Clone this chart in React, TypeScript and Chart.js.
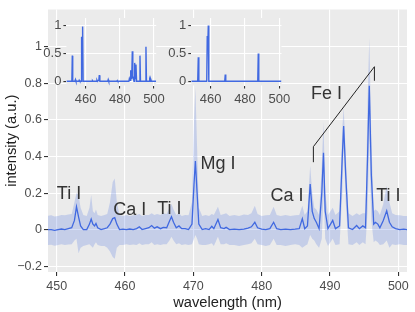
import React, { useEffect, useRef } from "react";
import { Chart, registerables } from "chart.js";
Chart.register(...registerables);

// ---- main spectrum (mean with band) ----
const wavelength = [
  448.7, 449.2, 449.7, 450.2, 450.7, 451.2, 451.7, 452.2, 452.6, 452.9, 453.2, 453.5, 453.9, 454.4, 454.8, 455.05,
  455.3, 455.55, 455.75, 456.0, 456.5, 457.0, 457.4, 457.8, 458.2, 458.5, 458.8, 459.2, 459.7, 460.2, 460.7, 461.2,
  461.7, 462.1, 462.5, 463.0, 463.5, 463.9, 464.3, 464.7, 465.2, 465.6, 466.1, 466.5, 466.8, 467.1, 467.5, 467.9,
  468.3, 468.8, 469.3, 469.8, 470.1, 470.3, 470.55, 470.8, 471.3, 471.8, 472.3, 472.7, 473.0, 473.6, 474.0, 474.5,
  474.8, 475.3, 476.0, 476.7, 477.4, 478.0, 478.5, 479.0, 479.4, 480.0, 480.6, 481.2, 481.75, 482.2, 482.8, 483.5,
  484.2, 484.9, 485.5, 485.95, 486.3, 486.7, 487.1, 487.4, 487.7, 488.0, 488.4, 488.8, 489.05, 489.3, 489.7, 490.4,
  490.8, 491.4, 491.8, 492.0, 492.3, 492.7, 493.3, 493.9, 494.3, 494.8, 495.2, 495.5, 495.75, 496.05, 496.4, 496.65,
  497.0, 497.3, 497.8, 498.3, 498.7, 499.1, 499.6, 500.2, 500.8, 501.3,
];
const meanIntensity = [
  0.0, 0.0, -0.004, 0.0, 0.003, 0.0, 0.005, 0.01, 0.05, 0.125, 0.07, 0.02, 0.0, 0.0, 0.03, 0.058,
  0.03, 0.02, 0.033, 0.01, 0.0, 0.005, 0.01, 0.03, 0.06, 0.065, 0.03, 0.0, 0.002, 0.0, 0.003, 0.0,
  0.005, 0.015, 0.0, 0.005, 0.01, 0.022, 0.008, 0.015, 0.005, 0.012, 0.01, 0.045, 0.07, 0.04, 0.01, 0.02,
  0.005, 0.005, 0.0, 0.03, 0.25, 0.375, 0.2, 0.03, 0.0, 0.005, 0.0, 0.018, 0.005, 0.055, 0.01, 0.005,
  0.012, 0.0, 0.002, 0.0, 0.003, 0.008, 0.015, 0.04, 0.01, 0.002, 0.0, 0.005, 0.04, 0.005, 0.0, 0.002,
  0.0, 0.002, 0.005, 0.06, 0.005, 0.02, 0.25, 0.1, 0.06, 0.04, 0.005, 0.2, 0.42, 0.1, 0.005, 0.05,
  0.005, 0.02, 0.4, 0.567, 0.3, 0.01, 0.0, 0.022, 0.005, 0.02, 0.01, 0.4, 0.787, 0.3, 0.03, 0.04,
  0.03, 0.01, 0.05, 0.103, 0.04, 0.015, 0.005, 0.0, 0.002, 0.0,
];
const upperBand = [
  0.075, 0.078, 0.072, 0.075, 0.08, 0.078, 0.082, 0.085, 0.15, 0.2, 0.19, 0.12, 0.08, 0.075, 0.12, 0.19,
  0.1, 0.09, 0.11, 0.08, 0.075, 0.08, 0.085, 0.15, 0.26, 0.28, 0.15, 0.08, 0.075, 0.08, 0.075, 0.078,
  0.08, 0.085, 0.075, 0.08, 0.08, 0.09, 0.08, 0.085, 0.08, 0.09, 0.085, 0.12, 0.14, 0.11, 0.08, 0.09,
  0.075, 0.08, 0.078, 0.15, 0.6, 0.78, 0.45, 0.12, 0.075, 0.08, 0.075, 0.085, 0.08, 0.125, 0.08, 0.085,
  0.09, 0.075, 0.08, 0.075, 0.082, 0.08, 0.09, 0.13, 0.085, 0.075, 0.078, 0.08, 0.125, 0.08, 0.075, 0.08,
  0.075, 0.078, 0.08, 0.13, 0.08, 0.1, 0.35, 0.2, 0.12, 0.11, 0.08, 0.35, 0.59, 0.2, 0.08, 0.12,
  0.08, 0.1, 0.55, 0.67, 0.42, 0.09, 0.075, 0.09, 0.08, 0.09, 0.09, 0.7, 1.05, 0.5, 0.1, 0.11,
  0.1, 0.08, 0.14, 0.24, 0.15, 0.09, 0.08, 0.078, 0.075, 0.075,
];
const lowerBand = [
  -0.085, -0.083, -0.088, -0.085, -0.08, -0.085, -0.082, -0.08, -0.06, -0.05, -0.13, -0.1, -0.09, -0.085, -0.08, -0.09,
  -0.1, -0.08, -0.07, -0.085, -0.09, -0.09, -0.1, -0.12, -0.15, -0.16, -0.1, -0.085, -0.085, -0.08, -0.085, -0.082,
  -0.085, -0.075, -0.085, -0.08, -0.08, -0.07, -0.085, -0.08, -0.085, -0.08, -0.08, -0.06, -0.04, -0.06, -0.08, -0.075,
  -0.085, -0.08, -0.085, -0.08, -0.05, -0.03, -0.05, -0.08, -0.085, -0.085, -0.08, -0.075, -0.09, -0.04, -0.08, -0.08,
  -0.075, -0.085, -0.085, -0.09, -0.085, -0.08, -0.075, -0.05, -0.08, -0.085, -0.09, -0.085, -0.05, -0.085, -0.085, -0.09,
  -0.085, -0.08, -0.085, -0.1, -0.09, -0.08, -0.03, -0.05, -0.06, -0.08, -0.1, -0.05, 0.2, -0.05, -0.09, -0.05,
  -0.085, -0.08, 0.2, 0.45, 0.15, -0.08, -0.085, -0.07, -0.085, -0.07, -0.08, 0.1, 0.5, 0.05, -0.07, -0.06,
  -0.07, -0.085, -0.08, -0.06, -0.1, -0.08, -0.085, -0.08, -0.085, -0.085,
];

// ---- inset spectra ----
const inset1Wavelength = [
  448.7, 451.9, 452.15, 452.4, 453.7, 454.0, 454.3, 455.9, 456.2, 456.6, 457.3, 457.6, 457.9, 458.2, 458.5, 463.7,
  464.0, 464.3, 466.3, 466.6, 466.9, 467.7, 467.97, 468.3, 472.9, 473.2, 473.5, 478.2, 478.5, 478.8, 485.3, 485.6,
  486.0, 486.35, 486.7, 487.0, 487.3, 487.6, 488.0, 488.3, 488.7, 489.0, 489.45, 489.8, 491.5, 491.8, 492.1, 495.0,
  495.3, 495.6, 497.2, 497.5, 497.8, 498.0, 498.25, 498.5, 501.3,
];
const inset1Intensity = [
  0.0, 0.0, 0.46, 0.0, 0.0, 0.03, 0.0, 0.0, 0.02, 0.0, 0.0, 0.8, 0.6, 0.98, 0.0, 0.0,
  0.012, 0.0, 0.0, 0.02, 0.0, 0.02, 0.11, 0.0, 0.0, 0.03, 0.0, 0.0, 0.015, 0.0, 0.0, 0.05,
  0.02, 0.2, 0.05, 0.1, 0.54, 0.1, 0.05, 0.0, 0.33, 0.05, 0.3, 0.0, 0.0, 0.46, 0.0, 0.0,
  0.62, 0.0, 0.0, 0.03, 0.0, 0.0, 0.035, 0.0, 0.0,
];
const inset2Wavelength = [
  448.7, 452.45, 452.77, 453.1, 457.7, 458.0, 458.3, 458.6, 458.9, 468.2, 468.5, 468.8, 487.45, 487.75, 488.05, 501.3,
];
const inset2Intensity = [0.0, 0.0, 0.43, 0.0, 0.0, 0.81, 0.6, 1.0, 0.0, 0.0, 0.12, 0.0, 0.0, 0.5, 0.0, 0.0];

// ---- ticks ----
const xTicks = [450, 460, 470, 480, 490, 500];
const xTickLabels = ["450", "460", "470", "480", "490", "500"];
const yTicks = [-0.2, 0, 0.2, 0.4, 0.6, 0.8, 1];
const yTickLabels = ["\u22120.2", "0", "0.2", "0.4", "0.6", "0.8", "1"];
const insetXTicks = [460, 480, 500];
const insetXTickLabels = ["460", "480", "500"];
const insetYTicks = [0, 0.5, 1];
const insetYTickLabels = ["0", "0.5", "1"];

// ---- annotations ----
const labelTexts = ["Ti I", "Ca I", "Ti I", "Mg I", "Ca I", "Ti I", "Fe I"];
const labelX = [451.8, 460.7, 466.5, 473.6, 483.7, 498.55, 489.5];
const labelY = [0.195, 0.108, 0.113, 0.357, 0.184, 0.184, 0.74];
const bracketX = [487.57, 487.57, 496.5, 496.5];
const bracketY = [0.369, 0.454, 0.892, 0.815];

const FONT = "'Liberation Sans', Arial, sans-serif";
const LINE_BLUE = "#4169E1";
const PANEL = "#EBEBEB";

const panelBg = {
  id: "panelBg",
  beforeDraw(chart: any) {
    const { ctx, chartArea: a } = chart;
    ctx.save();
    ctx.fillStyle = PANEL;
    ctx.fillRect(a.left, a.top, a.right - a.left, a.bottom - a.top);
    ctx.restore();
  },
};

const annotations = {
  id: "annotations",
  afterDatasetsDraw(chart: any) {
    const { ctx } = chart;
    const xs = chart.scales.x;
    const ys = chart.scales.y;
    ctx.save();
    ctx.strokeStyle = "#222";
    ctx.lineWidth = 1;
    ctx.beginPath();
    bracketX.forEach((bx, i) => {
      const px = xs.getPixelForValue(bx);
      const py = ys.getPixelForValue(bracketY[i]);
      if (i === 0) ctx.moveTo(px, py);
      else ctx.lineTo(px, py);
    });
    ctx.stroke();
    ctx.fillStyle = "#333";
    ctx.font = `18px ${FONT}`;
    ctx.textAlign = "center";
    ctx.textBaseline = "middle";
    labelTexts.forEach((t, i) => {
      ctx.fillText(t, xs.getPixelForValue(labelX[i]), ys.getPixelForValue(labelY[i]));
    });
    ctx.restore();
  },
};

function setTicks(values: number[]) {
  return (s: any) => {
    s.ticks = values.map((v) => ({ value: v }));
  };
}

function mainConfig(): any {
  return {
    type: "line",
    data: {
      datasets: [
        {
          data: wavelength.map((x, i) => ({ x, y: upperBand[i] })),
          borderWidth: 0,
          borderColor: "transparent",
          pointRadius: 0,
          fill: "+1",
          backgroundColor: "rgba(65,105,225,0.22)",
        },
        {
          data: wavelength.map((x, i) => ({ x, y: lowerBand[i] })),
          borderWidth: 0,
          borderColor: "transparent",
          pointRadius: 0,
          fill: false,
        },
        {
          data: wavelength.map((x, i) => ({ x, y: meanIntensity[i] })),
          borderColor: LINE_BLUE,
          borderWidth: 1.3,
          pointRadius: 0,
          fill: false,
        },
      ],
    },
    options: {
      animation: false,
      responsive: false,
      maintainAspectRatio: false,
      events: [],
      layout: { padding: { left: 0, top: 6, right: 8, bottom: 0 } },
      plugins: { legend: { display: false }, tooltip: { enabled: false } },
      scales: {
        x: {
          type: "linear",
          min: 448.73,
          max: 501.27,
          afterBuildTicks: setTicks(xTicks),
          afterFit: (s: any) => {
            s.height = 40;
          },
          grid: { color: "#FFFFFF", lineWidth: 1.1, tickColor: "#333", tickLength: 4 },
          border: { display: false },
          ticks: {
            padding: 3,
            color: "#4D4D4D",
            font: { family: FONT, size: 12.5 },
            maxRotation: 0,
            autoSkip: false,
            callback: (_v: any, i: number) => xTickLabels[i],
          },
          title: {
            display: true,
            text: "wavelength (nm)",
            color: "#222",
            font: { family: FONT, size: 14.7 },
            padding: { top: 0, bottom: 0 },
          },
        },
        y: {
          type: "linear",
          min: -0.2324,
          max: 1.2054,
          afterBuildTicks: setTicks(yTicks),
          afterFit: (s: any) => {
            s.width = 48;
          },
          grid: { color: "#FFFFFF", lineWidth: 1.1, tickColor: "#333", tickLength: 4 },
          border: { display: false },
          ticks: {
            padding: 2,
            color: "#4D4D4D",
            font: { family: FONT, size: 12.5 },
            autoSkip: false,
            callback: (_v: any, i: number) => yTickLabels[i],
          },
          title: {
            display: true,
            text: "intensity (a.u.)",
            color: "#222",
            font: { family: FONT, size: 14.7 },
            padding: { top: 3, bottom: 0 },
          },
        },
      },
    },
    plugins: [panelBg, annotations],
  };
}

function insetConfig(xs: number[], ys: number[], left: number, right: number): any {
  return {
    type: "line",
    data: {
      datasets: [
        {
          data: xs.map((x, i) => ({ x, y: ys[i] })),
          borderColor: LINE_BLUE,
          borderWidth: 1.4,
          pointRadius: 0,
          fill: false,
        },
      ],
    },
    options: {
      animation: false,
      responsive: false,
      maintainAspectRatio: false,
      events: [],
      layout: { padding: { left: left - 30, top: 18, right: 415 - right, bottom: 312 - 85.5 - 20 } },
      plugins: { legend: { display: false }, tooltip: { enabled: false } },
      scales: {
        x: {
          type: "linear",
          min: 448.7,
          max: 501.3,
          afterBuildTicks: setTicks(insetXTicks),
          afterFit: (s: any) => {
            s.height = 20;
          },
          grid: { color: "#FFFFFF", lineWidth: 1.1, tickColor: "#333", tickLength: 3 },
          border: { display: false },
          ticks: {
            padding: 3.5,
            color: "#4D4D4D",
            font: { family: FONT, size: 13 },
            maxRotation: 0,
            autoSkip: false,
            callback: (_v: any, i: number) => insetXTickLabels[i],
          },
        },
        y: {
          type: "linear",
          min: -0.075,
          max: 1.134,
          afterBuildTicks: setTicks(insetYTicks),
          afterFit: (s: any) => {
            s.width = 30;
          },
          grid: { color: "#FFFFFF", lineWidth: 1.1, tickColor: "#333", tickLength: 3 },
          border: { display: false },
          ticks: {
            padding: 2,
            color: "#4D4D4D",
            font: { family: FONT, size: 13 },
            autoSkip: false,
            callback: (_v: any, i: number) => insetYTickLabels[i],
          },
        },
      },
    },
    plugins: [panelBg],
  };
}

export default function App() {
  const mainRef = useRef<HTMLCanvasElement | null>(null);
  const in1Ref = useRef<HTMLCanvasElement | null>(null);
  const in2Ref = useRef<HTMLCanvasElement | null>(null);

  useEffect(() => {
    const charts: Chart[] = [];
    if (mainRef.current) charts.push(new Chart(mainRef.current, mainConfig()));
    if (in1Ref.current)
      charts.push(new Chart(in1Ref.current, insetConfig(inset1Wavelength, inset1Intensity, 66.4, 156.2)));
    if (in2Ref.current)
      charts.push(new Chart(in2Ref.current, insetConfig(inset2Wavelength, inset2Intensity, 191.3, 281.5)));
    return () => charts.forEach((c) => c.destroy());
  }, []);

  const canvasStyle: React.CSSProperties = {
    position: "absolute",
    left: 0,
    top: 0,
    width: 415,
    height: 312,
    pointerEvents: "none",
  };

  return (
    <div style={{ position: "absolute", left: 0, top: 0, width: 415, height: 312, background: "#fff" }}>
      <canvas ref={mainRef} width={415} height={312} style={canvasStyle} />
      <canvas ref={in1Ref} width={415} height={312} style={canvasStyle} />
      <canvas ref={in2Ref} width={415} height={312} style={canvasStyle} />
    </div>
  );
}
